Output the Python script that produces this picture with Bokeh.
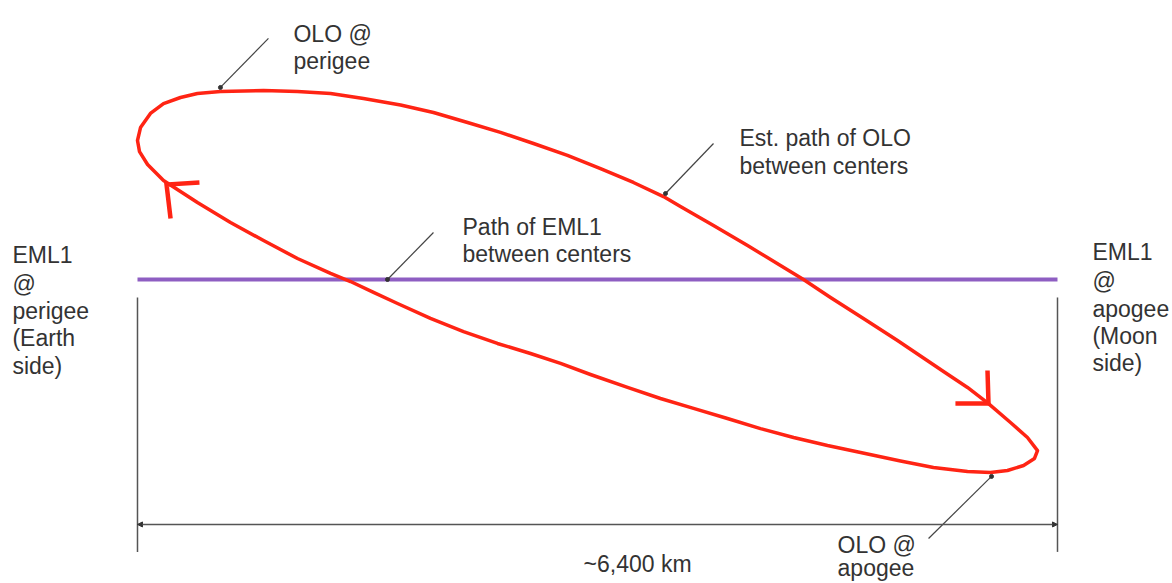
from bokeh.plotting import figure
from bokeh.models import Range1d, Arrow, NormalHead, ColumnDataSource
from bokeh.core.properties import value
from bokeh.embed import file_html
from bokeh.resources import INLINE

# ---- data (km; x along Earth-Moon line, y across, EML1 path at y=0) ----
EML1_START_KM = 0
EML1_END_KM = 6400

# estimated OLO path (closed loop, clockwise from perigee)
olo_x = [577, 877, 1113, 1343, 1572, 1830, 2059, 2296, 2525, 2755, 2991, 3221,
         3450, 3659, 3777, 4007, 4244, 4473, 4633, 4821, 5050, 5287, 5607, 5774,
         5920, 6073, 6191, 6261, 6240, 6164, 6052, 5934, 5774, 5537, 5308, 5030,
         4800, 4564, 4334, 4104, 3868, 3638, 3409, 3151, 2943, 2734, 2504, 2268,
         2038, 1809, 1642, 1482, 1343, 1113, 877, 647, 417, 181, 70, 14,
         0, 21, 90, 181, 299, 417, 577]
olo_y = [1308, 1315, 1308, 1294, 1259, 1214, 1162, 1092, 1023, 946, 863, 772,
         675, 577, 508, 376, 237, 97, 0, -125, -271, -424, -640, -751,
         -863, -995, -1099, -1190, -1245, -1294, -1329, -1343, -1336, -1308, -1263, -1204,
         -1155, -1099, -1037, -967, -897, -828, -751, -661, -584, -515, -445, -362,
         -271, -167, -90, -14, 42, 146, 271, 397, 536, 689, 800, 890,
         967, 1057, 1155, 1224, 1266, 1294, 1308]

# direction arrowheads (leg1, tip, leg2)
arrow_heads_x = [[431, 202, 230], [5690, 5920, 5913]]
arrow_heads_y = [[675, 661, 424], [-863, -863, -633]]

# callout leader lines: (start x, start y, end x, end y)
leader_x0 = [911, 4007, 2059, 5503]
leader_y0 = [1677, 946, 327, -1802]
leader_x1 = [577, 3673, 1739, 5941]
leader_y1 = [1336, 598, 0, -1370]

# text labels, one entry per line
label_text = ["OLO @", "perigee",
              "Est. path of OLO", "between centers",
              "Path of EML1", "between centers",
              "EML1", "@", "perigee", "(Earth", "side)",
              "EML1", "@", "apogee", "(Moon", "side)",
              "~6,400 km",
              "OLO @", "apogee"]
label_x = [1085, 1085,
           4188, 4188,
           2261, 2261,
           -870, -870, -870, -870, -870,
           6643, 6643, 6643, 6643, 6643,
           3103,
           4870, 4870]
label_y = [1711, 1517,
           981, 793,
           362, 174,
           167, -28, -216, -410, -605,
           188, -7, -202, -390, -584,
           -1976,
           -1850, -2010]

DIM_Y = -1704
TICK_TOP = -125
TICK_BOTTOM = -1895

p = figure(width=1172, height=583,
           x_range=Range1d(-953.0, 7200.0), y_range=Range1d(-2114.8, 1940.9),
           output_backend="svg", toolbar_location=None,
           x_axis_type=None, y_axis_type=None, min_border=0)
p.title.visible = False
p.outline_line_color = None
p.background_fill_color = "white"
p.border_fill_color = "white"

# extent ticks
p.segment(x0=[EML1_START_KM, EML1_END_KM], y0=[TICK_TOP, TICK_TOP],
          x1=[EML1_START_KM, EML1_END_KM], y1=[TICK_BOTTOM, TICK_BOTTOM],
          line_color="#555555", line_width=1.5)

# dimension line
p.add_layout(Arrow(x_start=EML1_START_KM, y_start=DIM_Y, x_end=EML1_END_KM, y_end=DIM_Y,
                   line_color="#555555", line_width=1.5,
                   start=NormalHead(size=5, line_color="#333333", fill_color="#333333"),
                   end=NormalHead(size=5, line_color="#333333", fill_color="#333333")))

# EML1 path
p.line([EML1_START_KM, EML1_END_KM], [0, 0], line_color="#8E5EC2", line_width=4)

# OLO loop
p.line(olo_x, olo_y, line_color="#FF2414", line_width=3.5, line_join="round")
p.multi_line(arrow_heads_x, arrow_heads_y, line_color="#FF2414", line_width=4.5,
             line_join="miter")

# leaders
p.segment(x0=leader_x0, y0=leader_y0, x1=leader_x1, y1=leader_y1,
          line_color="#444444", line_width=1.2)
p.scatter(leader_x1, leader_y1, size=4, color="#333333")

src = ColumnDataSource(dict(x=label_x, y=label_y, t=label_text))
p.text(x="x", y="y", text="t", source=src, text_font=value("Liberation Sans"),
       text_font_size="23px", text_color="#333333",
       text_align="left", text_baseline="alphabetic")

open("out.html", "w").write(file_html(p, INLINE))
